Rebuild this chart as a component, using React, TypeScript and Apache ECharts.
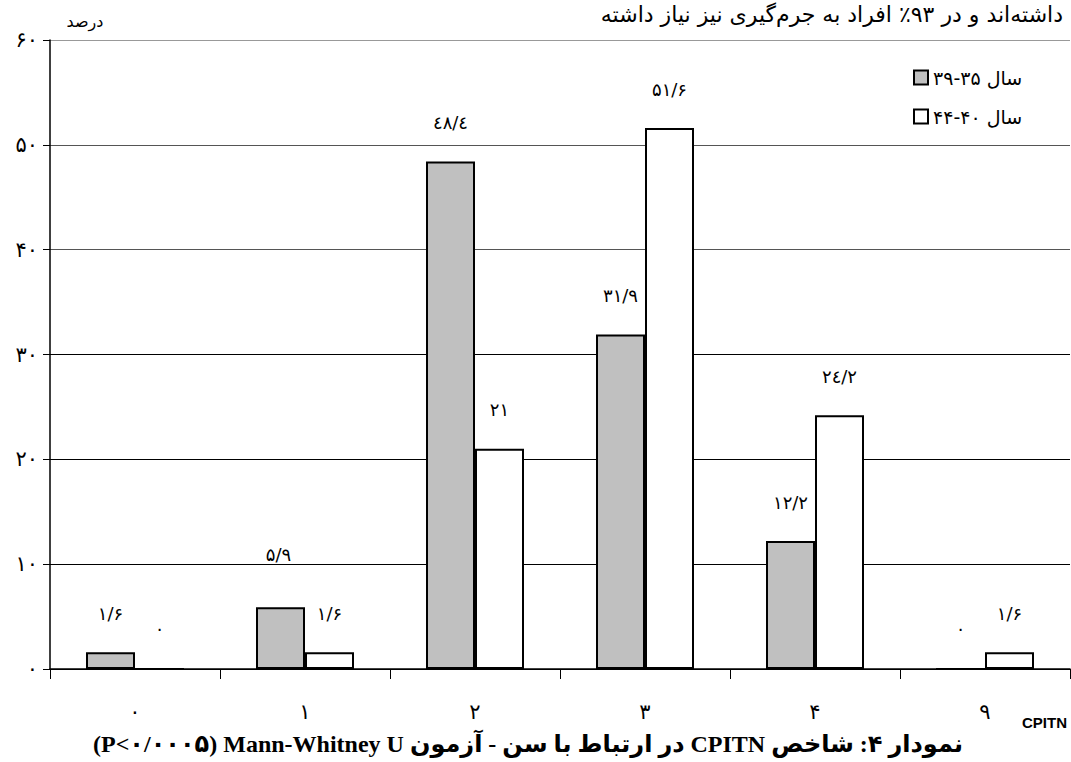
import React, { useEffect, useRef } from "react";
import * as echarts from "echarts";

// ---- data ----
const categories = ["۰", "۱", "۲", "۳", "۴", "۹"];
const seriesNames = ["سال ۳۵-۳۹", "سال ۴۰-۴۴"];
const age35to39 = [1.6, 5.9, 48.4, 31.9, 12.2, 0];
const age40to44 = [0, 1.6, 21, 51.6, 24.2, 1.6];
const yMin = 0;
const yMax = 60;
const yInterval = 10;

const topLine = "داشته‌اند و در ۹۳٪ افراد به جرم‌گیری نیز نیاز داشته";
const yName = "درصد";
const xName = "CPITN";
const caption = "نمودار ۴: شاخص CPITN در ارتباط با سن - آزمون Mann-Whitney U \u200F(P<۰/۰۰۰۵)";

const FA = "۰۱۲۳۴۵۶۷۸۹";
function toFa(n: number, four = "۴"): string {
  return String(n)
    .replace(/\d/g, (d) => (d === "4" ? four : FA[+d]))
    .replace(".", "/");
}

const ARABIC_FONT = "'DejaVu Sans', 'Noto Sans', sans-serif";

export default function App() {
  const ref = useRef<HTMLDivElement>(null);

  useEffect(() => {
    if (!ref.current) return;
    const chart = echarts.init(ref.current, undefined, { renderer: "svg" });

    const specialOffsets: Record<string, number[]> = { "0-1": [-2, -14] };

    const buildData = (vals: number[], si: number) =>
      vals.map((v, i) => {
        const off = specialOffsets[`${si}-${i}`] || (v === 0 ? [0, -5] : [0, 0]);
        return { value: v, label: { offset: off } };
      });

    const labelCfg = {
      show: true,
      position: "top",
      distance: 30,
      fontSize: 18,
      color: "#000",
      fontFamily: ARABIC_FONT,
      formatter: (p: any) => (p.value === 0 ? "." : toFa(p.value, "٤")),
    };

    const option: any = {
      animation: false,
      backgroundColor: "#fff",
      grid: { left: 50, right: 1, top: 40, bottom: 93, containLabel: false },
      legend: {
        orient: "vertical",
        left: 908,
        top: 63,
        itemWidth: 14,
        itemHeight: 14,
        itemGap: 20,
        icon: "rect",
        textStyle: { fontSize: 19, color: "#000", fontFamily: ARABIC_FONT },
        data: seriesNames,
      },
      xAxis: {
        type: "category",
        data: categories,
        axisLine: { show: true, lineStyle: { color: "#000", width: 1.5 } },
        axisTick: { show: true, length: 10, lineStyle: { color: "#000", width: 1 } },
        axisLabel: { margin: 32, fontSize: 21, color: "#000", fontFamily: ARABIC_FONT },
        splitLine: { show: false },
      },
      yAxis: {
        type: "value",
        min: yMin,
        max: yMax,
        interval: yInterval,
        axisLine: { show: true, lineStyle: { color: "#000", width: 1.5 } },
        axisTick: { show: true, length: 7, lineStyle: { color: "#000" } },
        axisLabel: {
          margin: 12,
          fontSize: 21,
          color: "#000",
          fontFamily: ARABIC_FONT,
          formatter: (v: number) => toFa(v),
        },
        splitLine: {
          show: true,
          lineStyle: { color: ["#000", "#000", "#000", "#000", "#555", "#555", "#999"], width: 1 },
        },
      },
      series: [
        {
          name: seriesNames[0],
          type: "bar",
          barWidth: 49,
          barGap: "0%",
          itemStyle: { color: "#c0c0c0", borderColor: "#000", borderWidth: 2 },
          label: labelCfg,
          data: buildData(age35to39, 0),
        },
        {
          name: seriesNames[1],
          type: "bar",
          barWidth: 49,
          barGap: "0%",
          itemStyle: { color: "#fff", borderColor: "#000", borderWidth: 2 },
          label: labelCfg,
          data: buildData(age40to44, 1),
        },
      ],
      graphic: [
        {
          type: "text",
          x: 1063,
          y: 14,
          style: {
            text: "\u202B" + topLine + "\u202C",
            fontSize: 22,
            fontFamily: ARABIC_FONT,
            fill: "#000",
            align: "right",
            verticalAlign: "middle",
          },
        },
        {
          type: "text",
          x: 85,
          y: 21,
          style: {
            text: yName,
            fontSize: 16,
            fontFamily: ARABIC_FONT,
            fill: "#000",
            align: "center",
            verticalAlign: "middle",
          },
        },
        {
          type: "text",
          x: 1022,
          y: 722,
          style: {
            text: xName,
            fontSize: 15,
            fontWeight: "bold",
            fontFamily: "'Liberation Sans', Arial, sans-serif",
            fill: "#000",
            align: "left",
            verticalAlign: "middle",
          },
        },
        {
          type: "text",
          x: 528,
          y: 744,
          style: {
            text: "\u202B" + caption + "\u202C",
            fontSize: 24,
            fontWeight: "bold",
            fontFamily: "'Liberation Serif', 'DejaVu Sans', serif",
            fill: "#000",
            align: "center",
            verticalAlign: "middle",
          },
        },
      ],
    };

    chart.setOption(option);
    return () => chart.dispose();
  }, []);

  return (
    <div
      ref={ref}
      style={{ position: "fixed", left: 0, top: 0, width: 1071, height: 762, background: "#fff" }}
    />
  );
}
